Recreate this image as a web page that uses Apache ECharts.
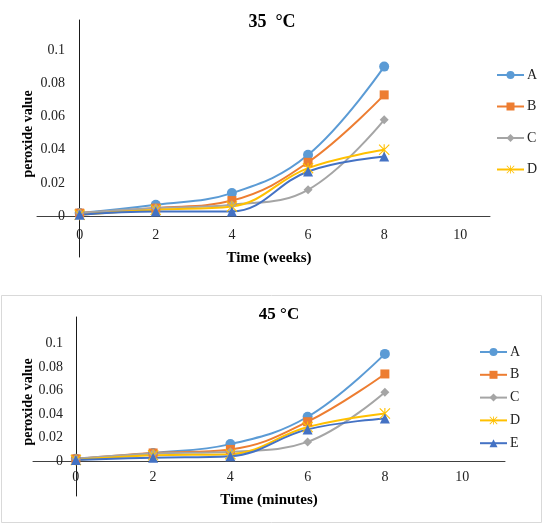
<!DOCTYPE html>
<html>
<head>
<meta charset="utf-8">
<script src="https://cdn.jsdelivr.net/npm/echarts@6/dist/echarts.min.js"></script>
<style>
html,body{margin:0;padding:0;background:#fff;}
#c{width:544px;height:524px;}
</style>
</head>
<body>
<div id="c"></div>
<script>
// ---- data ----
var times = [0, 2, 4, 6, 8];
var xTicks = [0, 2, 4, 6, 8, 10];
var yTicks = [0, 0.02, 0.04, 0.06, 0.08, 0.1];
var seriesNames = ['A', 'B', 'C', 'D', 'E'];

var topA = [0.002, 0.007, 0.014, 0.037, 0.090];
var topB = [0.002, 0.005, 0.0095, 0.0325, 0.073];
var topC = [0.002, 0.005, 0.007, 0.016, 0.058];
var topD = [0.001, 0.004, 0.006, 0.029, 0.040];
var topE = [0.001, 0.003, 0.003, 0.027, 0.036];

var botA = [0.002, 0.007, 0.0145, 0.0377, 0.091];
var botB = [0.002, 0.007, 0.010, 0.0335, 0.074];
var botC = [0.002, 0.0065, 0.008, 0.0164, 0.0585];
var botD = [0.001, 0.005, 0.006, 0.029, 0.0405];
var botE = [0.001, 0.003, 0.0043, 0.027, 0.0363];

var topTitle = '35  °C';
var botTitle = '45 °C';
var topXName = 'Time (weeks)';
var botXName = 'Time (minutes)';
var yName = 'peroxide value';

// ---- styles ----
var colors = ['#5B9BD5', '#ED7D31', '#A5A5A5', '#FFC000', '#4472C4'];
var starPath = 'path://M9,0L11,0L11,20L9,20Z M1.4,0L20,18.6L18.6,20L0,1.4Z M18.6,0L20,1.4L1.4,20L0,18.6Z';
var symbols = ['circle', 'rect', 'diamond', starPath, 'triangle'];
var symbolSizes = [10, 9, 9, 11, 10];
var FONT = '"Liberation Serif", "Times New Roman", serif';

function pairs(vals) { return times.map(function (t, i) { return [t, vals[i]]; }); }

function makeSeries(dataSets, axisIdx) {
  return dataSets.map(function (d, i) {
    return {
      name: seriesNames[i],
      type: 'line',
      xAxisIndex: axisIdx,
      yAxisIndex: axisIdx,
      data: pairs(d),
      smooth: 0.4,
      symbol: symbols[i],
      symbolSize: symbolSizes[i],
      showAllSymbol: true,
      color: colors[i],
      lineStyle: { color: colors[i], width: 2 },
      itemStyle: { color: colors[i] },
      emphasis: { disabled: true },
      animation: false
    };
  });
}

function xAxisCfg(gridIdx, min, max, margin) {
  return {
    type: 'value', gridIndex: gridIdx, min: min, max: max,
    axisLine: { show: true, onZero: true, lineStyle: { color: '#404040', width: 1 } },
    axisTick: { show: false },
    splitLine: { show: false },
    axisLabel: {
      customValues: xTicks, margin: margin,
      fontFamily: FONT, fontSize: 14, color: '#222'
    }
  };
}
function yAxisCfg(gridIdx, min, max, margin) {
  return {
    type: 'value', gridIndex: gridIdx, min: min, max: max,
    axisLine: { show: true, onZero: true, lineStyle: { color: '#1a1a1a', width: 1 } },
    axisTick: { show: false },
    splitLine: { show: false },
    axisLabel: {
      customValues: yTicks, margin: margin,
      fontFamily: FONT, fontSize: 14, color: '#222',
      formatter: function (v) { return String(+v.toFixed(2)); }
    }
  };
}

function txt(text, x, y, size, rot) {
  return {
    type: 'text', x: x, y: y, rotation: rot || 0, silent: true,
    style: {
      text: text, align: 'center', verticalAlign: 'middle',
      font: 'bold ' + size + 'px ' + FONT, fill: '#000'
    }
  };
}

var chart = echarts.init(document.getElementById('c'), null, { renderer: 'canvas' });
chart.setOption({
  backgroundColor: '#fff',
  animation: false,
  grid: [
    { left: 37, top: 20, width: 453, height: 237, containLabel: false },
    { left: 33, top: 317, width: 472, height: 179, containLabel: false }
  ],
  xAxis: [
    xAxisCfg(0, -1.12, 10.78, -29),
    xAxisCfg(1, -1.11, 11.11, -26)
  ],
  yAxis: [
    yAxisCfg(0, -0.0244, 0.118, -28),
    yAxisCfg(1, -0.0295, 0.1223, -30)
  ],
  legend: [
    {
      data: ['A', 'B', 'C', 'D'], orient: 'vertical', left: 496, top: 68, padding: 0,
      itemWidth: 27, itemHeight: 10, itemGap: 17.5,
      textStyle: { fontFamily: FONT, fontSize: 14, color: '#222', padding: [0, 0, 0, -2] },
      selectedMode: false
    },
    {
      data: ['A', 'B', 'C', 'D', 'E'], orient: 'vertical', left: 479, top: 345, padding: 0,
      itemWidth: 27, itemHeight: 10, itemGap: 8.8,
      textStyle: { fontFamily: FONT, fontSize: 14, color: '#222', padding: [0, 0, 0, -2] },
      selectedMode: false
    }
  ],
  graphic: [
    { type: 'rect', silent: true, z: -10,
      shape: { x: 1.5, y: 295.5, width: 540, height: 227 },
      style: { fill: 'none', stroke: '#D9D9D9', lineWidth: 1 } },
    txt(topTitle, 272, 22, 18),
    txt(botTitle, 279, 315, 17),
    txt(topXName, 269, 258, 15),
    txt(botXName, 269, 500, 15),
    txt(yName, 28, 134, 14, Math.PI / 2),
    txt(yName, 28, 402, 14, Math.PI / 2)
  ],
  series: makeSeries([topA, topB, topC, topD, topE], 0)
    .concat(makeSeries([botA, botB, botC, botD, botE], 1))
});
</script>
</body>
</html>
